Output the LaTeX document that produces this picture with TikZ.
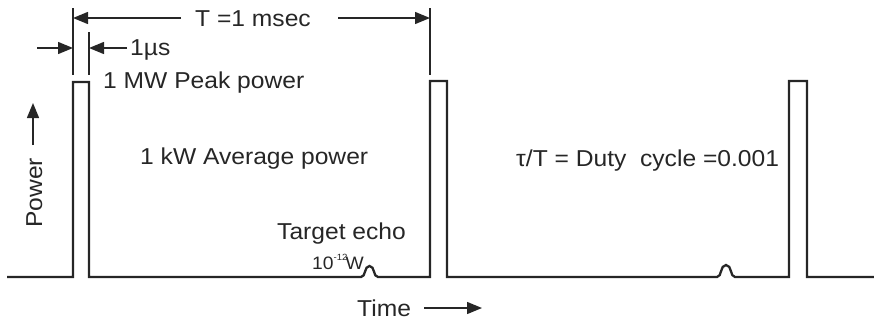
\documentclass[tikz,border=0pt]{standalone}
\usepackage{fontspec}
\setmainfont[FakeStretch=1.07]{Liberation Sans}
\usetikzlibrary{arrows.meta}

\begin{document}
\begin{tikzpicture}[x=1pt, y=-1pt,
  wave/.style={line width=2.3pt, line join=miter, draw=black!85},
  dim/.style={line width=1.4pt, draw=black!85},
  dimarrow/.style={dim, -{Triangle[length=15pt,width=12pt]}},
  lbl/.style={inner sep=0pt, text=black!85, font=\fontsize{23}{27}\selectfont},
]
\useasboundingbox (0,0) rectangle (874,322);

% pulse train with two small echo bumps
\draw[wave] (7,277) -- (73,277) -- (73,82) -- (89,82) -- (89,277) -- (361,277)
  .. controls (366,277) and (364,266) .. (369.5,266)
  .. controls (375,266) and (373,277) .. (378,277)
  -- (430,277) -- (430,81) -- (447,81) -- (447,277) -- (717,277)
  .. controls (722,277) and (720,265) .. (726,265)
  .. controls (732,265) and (730,277) .. (735,277)
  -- (789,277) -- (789,81) -- (807,81) -- (807,277) -- (874,277);

% extension lines of the dimensions
\coordinate (t1top) at (73,8);   \coordinate (t1bot) at (73,75);
\coordinate (t2top) at (89,32);  \coordinate (t2bot) at (89,75);
\coordinate (t3top) at (430,8);  \coordinate (t3bot) at (430,75);
\draw[dim] (t1top) -- (t1bot);
\draw[dim] (t2top) -- (t2bot);
\draw[dim] (t3top) -- (t3bot);

% period T
\node[lbl, anchor=base west] (Tlab) at (195,26) {T =1 msec};
\coordinate (Tl) at (73,18);  \coordinate (Tls) at (181,18);
\coordinate (Tr) at (430,18); \coordinate (Trs) at (338,18);
\draw[dimarrow] (Tls) -- (Tl);
\draw[dimarrow] (Trs) -- (Tr);

% pulse width
\node[lbl, anchor=base west] (mus) at (130,55) {1µs};
\coordinate (wl) at (37,48);  \coordinate (wlt) at (73,48);
\coordinate (wr) at (127,48); \coordinate (wrt) at (89,48);
\draw[dimarrow] (wl) -- (wlt);
\draw[dimarrow] (wr) -- (wrt);

% labels
\node[lbl, anchor=base west] (peak) at (103,88) {1 MW Peak power};
\node[lbl, anchor=base west] (avg) at (140,164) {1 kW Average power};
\node[lbl, anchor=base west] (duty) at (516,166) {τ/T = Duty~ cycle =0.001};
\node[lbl, anchor=base west] (echo) at (277,239) {Target echo};
\node[lbl, anchor=base west, font=\fontsize{18}{21}\selectfont] (echopw) at (312,269)
  {10\raisebox{9pt}{\fontsize{9}{9}\selectfont -12}\kern-2pt W};

% axes
\node[lbl, anchor=base west, rotate=90] (power) at (42,228) {Power};
\coordinate (pa) at (33,145); \coordinate (pb) at (33,103);
\draw[dimarrow] (pa) -- (pb);

\node[lbl, anchor=base west] (time) at (357,316) {Time};
\coordinate (ta) at (424,308); \coordinate (tb) at (482,308);
\draw[dimarrow] (ta) -- (tb);
\end{tikzpicture}
\end{document}
